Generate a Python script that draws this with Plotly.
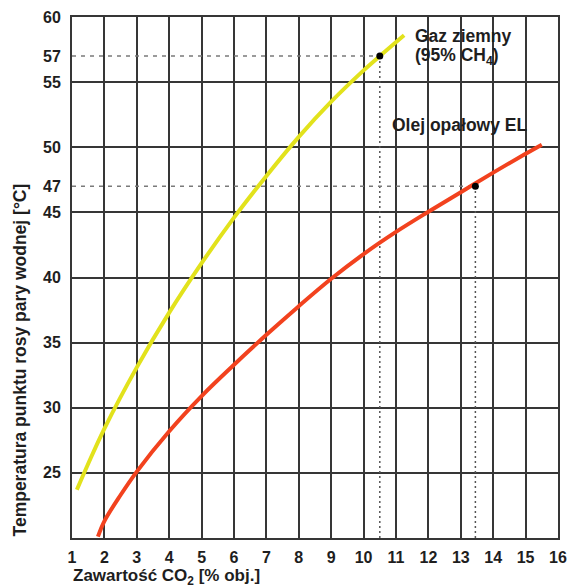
import plotly.graph_objects as go

# CO2 content [% vol] vs dew point temperature [°C]
gas_x = [1.15, 1.5, 2, 3, 4, 5, 6, 7, 8, 9, 10, 10.5, 11.25]
gas_y = [23.7, 25.7, 28.4, 33.1, 37.3, 41.1, 44.6, 47.8, 50.8, 53.5, 55.9, 57.0, 58.6]

oil_x = [1.8, 2, 2.5, 3, 4, 5, 6, 7, 8, 9, 10, 11, 12, 13, 14, 15, 15.5]
oil_y = [20.1, 21.3, 23.3, 25.1, 28.2, 30.9, 33.3, 35.6, 37.8, 39.9, 41.8, 43.5, 45.05, 46.55, 48.05, 49.5, 50.2]

gas_point = (10.5, 57)
oil_point = (13.45, 47)

x_ticks = list(range(1, 17))
y_ticks = [25, 30, 35, 40, 45, 47, 50, 55, 57, 60]
y_grid = [25, 30, 35, 40, 45, 50, 55]

gas_label = "Gaz ziemny"
gas_label2 = "(95% CH<sub>4</sub>)"
oil_label = "Olej opałowy EL"
x_title = "Zawartość CO<sub>2</sub> [% obj.]"
y_title = "Temperatura punktu rosy pary wodnej [°C]"

X_MIN, X_MAX, Y_MIN, Y_MAX = 1, 16, 20, 60

FONT = "Liberation Sans, Arial, sans-serif"
GRID = "#363636"
TXT = "#1e1e1e"
LBL = 17.5

fig = go.Figure()

# reference lines (horizontal dashed, vertical dotted)
for (px, py) in [gas_point, oil_point]:
    fig.add_trace(go.Scatter(x=[X_MIN, px], y=[py, py], mode="lines",
                             line=dict(color="#7a7a7a", width=1.5, dash="4px,5px"),
                             hoverinfo="skip", showlegend=False))
    fig.add_trace(go.Scatter(x=[px, px], y=[Y_MIN, py], mode="lines",
                             line=dict(color="#555555", width=1.5, dash="2px,3px"),
                             hoverinfo="skip", showlegend=False))

fig.add_trace(go.Scatter(x=gas_x, y=gas_y, mode="lines",
                         line=dict(color="#e2e21c", width=4, shape="spline", smoothing=1),
                         showlegend=False))
fig.add_trace(go.Scatter(x=oil_x, y=oil_y, mode="lines",
                         line=dict(color="#f2421e", width=4, shape="spline", smoothing=1),
                         showlegend=False))

fig.add_trace(go.Scatter(x=[gas_point[0], oil_point[0]], y=[gas_point[1], oil_point[1]],
                         mode="markers", marker=dict(color="#000000", size=7),
                         showlegend=False))

fig.add_annotation(x=11.52, y=58.55, text=gas_label, showarrow=False, xanchor="left",
                   yanchor="middle", font=dict(family=FONT, size=LBL, color=TXT, weight="bold"))
fig.add_annotation(x=11.52, y=57.0, text=gas_label2, showarrow=False, xanchor="left",
                   yanchor="middle", font=dict(family=FONT, size=LBL, color=TXT, weight="bold"))
fig.add_annotation(x=10.81, y=51.7, text=oil_label, showarrow=False, xanchor="left",
                   yanchor="middle", font=dict(family=FONT, size=LBL, color=TXT, weight="bold"))

fig.add_annotation(xref="paper", yref="paper", x=-0.002, y=-0.074, text=x_title,
                   showarrow=False, xanchor="left", yanchor="middle",
                   font=dict(family=FONT, size=17, color=TXT, weight="bold"))
fig.add_annotation(xref="paper", yref="paper", x=-0.107, y=0.0, text=y_title,
                   showarrow=False, textangle=-90, xanchor="center", yanchor="bottom",
                   font=dict(family=FONT, size=LBL, color=TXT, weight="bold"))

fig.update_xaxes(range=[X_MIN, X_MAX], tickvals=x_ticks, showgrid=True, gridcolor=GRID,
                 gridwidth=1.6, zeroline=False, showline=True, linecolor=GRID, linewidth=2,
                 mirror=True, ticks="", ticklabelstandoff=4, automargin=False,
                 tickfont=dict(family=FONT, size=16, color=TXT, weight="bold"))
fig.update_yaxes(range=[Y_MIN, Y_MAX], tickvals=y_ticks, showgrid=False, zeroline=False,
                 showline=True, linecolor=GRID, linewidth=2, mirror=True, ticks="",
                 ticklabelstandoff=6, automargin=False,
                 minor=dict(tickvals=y_grid, showgrid=True, gridcolor=GRID, gridwidth=1.6, ticks=""),
                 tickfont=dict(family=FONT, size=16, color=TXT, weight="bold"))

fig.update_layout(width=572, height=586, margin=dict(l=72, r=14, t=17, b=48),
                  plot_bgcolor="white", paper_bgcolor="white", showlegend=False)

fig.write_html("out.html", config={"displayModeBar": False},
               post_script="document.body.style.margin='0';document.body.style.overflow='hidden';")
